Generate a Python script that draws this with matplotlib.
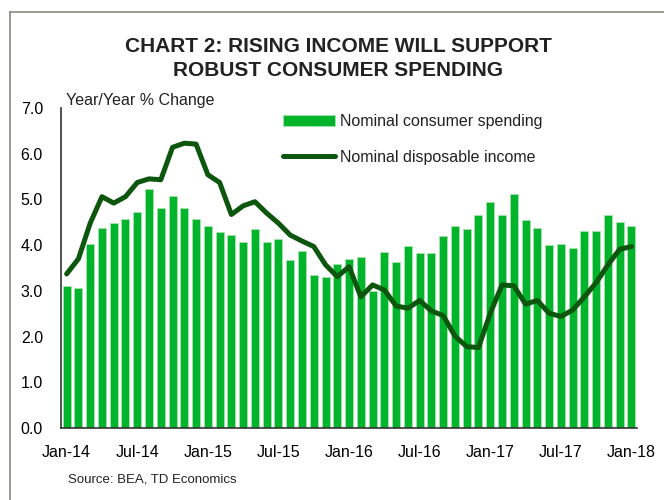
import matplotlib
matplotlib.use("Agg")
import matplotlib.pyplot as plt
from matplotlib.lines import Line2D
import numpy as np

# monthly, Jan-14 .. Jan-18
spending = [3.11, 3.06, 4.03, 4.38, 4.49, 4.57, 4.73, 5.23, 4.82, 5.08, 4.81, 4.57,
            4.41, 4.29, 4.22, 4.07, 4.35, 4.06, 4.14, 3.68, 3.87, 3.34, 3.30, 3.59,
            3.70, 3.75, 3.00, 3.84, 3.63, 3.99, 3.82, 3.82, 4.21, 4.42, 4.36, 4.66,
            4.95, 4.67, 5.11, 4.56, 4.38, 4.00, 4.03, 3.94, 4.31, 4.30, 4.67, 4.51,
            4.42]
income = [3.37, 3.70, 4.48, 5.06, 4.92, 5.06, 5.37, 5.45, 5.43, 6.14, 6.23, 6.21,
          5.54, 5.37, 4.67, 4.86, 4.95, 4.70, 4.48, 4.22, 4.09, 3.97, 3.57, 3.31,
          3.53, 2.87, 3.13, 3.02, 2.67, 2.62, 2.79, 2.56, 2.46, 2.01, 1.78, 1.76,
          2.51, 3.13, 3.11, 2.71, 2.79, 2.51, 2.44, 2.58, 2.87, 3.18, 3.57, 3.91,
          3.97]
tick_labels = ["Jan-14", "Jul-14", "Jan-15", "Jul-15", "Jan-16",
               "Jul-16", "Jan-17", "Jul-17", "Jan-18"]
y_ticks = [0, 1, 2, 3, 4, 5, 6, 7]

BAR = "#00b52b"
LINE = "#0d560d"
DARK = "#222222"

plt.rcParams.update({
    "font.family": ["Liberation Sans", "DejaVu Sans"],
    "font.size": 11.5,
    "text.color": DARK,
})

fig = plt.figure(figsize=(6.64, 5.0), dpi=100)
ax = fig.add_axes([61 / 664, 72 / 500, 576 / 664, 320 / 500])

x = np.arange(len(spending))
bars = ax.bar(x, spending, width=0.68, color=BAR, edgecolor="#a6e3ae", linewidth=0.6,
              label="Nominal consumer spending", zorder=1)
line, = ax.plot(x, income, color=LINE, linewidth=3.6, solid_joinstyle="round",
                solid_capstyle="round", label="Nominal disposable income", zorder=2)

ax.set_xlim(-0.48, len(spending) - 0.53)
ax.set_ylim(0, 7)
ax.set_yticks(y_ticks)
ax.set_yticklabels([f"{v:.1f}" for v in y_ticks])
ax.set_xticks(x[::6])
ax.set_xticklabels(tick_labels)
ax.tick_params(axis="y", length=0, pad=13, labelsize=11.5)
ax.tick_params(axis="x", length=0, pad=12, labelsize=11.5)
for s in ["top", "right"]:
    ax.spines[s].set_visible(False)
for s in ["left", "bottom"]:
    ax.spines[s].set_color("#333333")
    ax.spines[s].set_linewidth(1.2)

fig.text(66 / 664, 1 - 100 / 500, "Year/Year % Change", fontsize=11.5,
         ha="left", va="center")

ax.legend([bars, line], ["Nominal consumer spending", "Nominal disposable income"],
          loc="upper left", bbox_to_anchor=(283 / 664, 1 - 114 / 500),
          bbox_transform=fig.transFigure, frameon=False, borderpad=0,
          borderaxespad=0, handlelength=3.25, handletextpad=0.3,
          labelspacing=1.3, fontsize=11.5)

fig.text(338 / 664, 1 - 46 / 500, "CHART 2: RISING INCOME WILL SUPPORT",
         fontsize=15, fontweight="bold", ha="center", va="center")
fig.text(338 / 664, 1 - 70 / 500, "ROBUST CONSUMER SPENDING",
         fontsize=15, fontweight="bold", ha="center", va="center")

fig.text(68 / 664, 1 - 480 / 500, "Source: BEA, TD Economics", fontsize=9.5,
         ha="left", va="center")

# outer frame
fig.add_artist(Line2D([10 / 664, 10 / 664], [0, 1 - 12 / 500], color="#8a8a80",
                      linewidth=1.2, transform=fig.transFigure))
fig.add_artist(Line2D([10 / 664, 1], [1 - 12 / 500, 1 - 12 / 500], color="#8a8a80",
                      linewidth=1.2, transform=fig.transFigure))

fig.savefig("out.png", dpi=100, facecolor="white")
